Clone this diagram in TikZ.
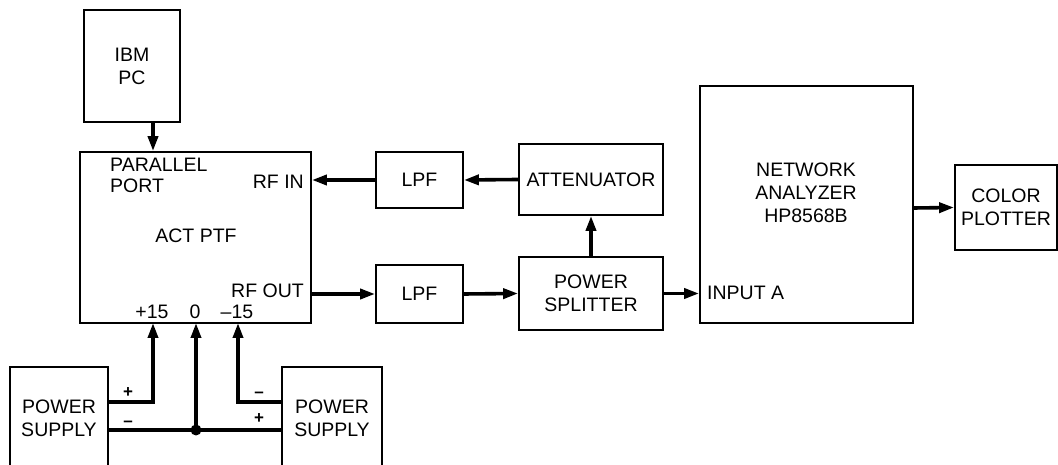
\documentclass[tikz,border=0pt]{standalone}
\usepackage{fontspec}
\setmainfont{Liberation Sans}
\usetikzlibrary{arrows.meta}

\begin{document}
\begin{tikzpicture}[x=1pt,y=1pt,
	block/.style = {draw, line width=1.8pt, inner sep=0pt, align=center,
		font=\fontsize{19.5}{23}\selectfont},
	lbl/.style = {inner sep=0pt, align=left, font=\fontsize{19.5}{21}\selectfont},
	sgn/.style = {inner sep=0pt, font=\bfseries\fontsize{17}{17}\selectfont},
	wire/.style = {line width=3.6pt},
	arr/.style = {wire, -{Triangle[length=15pt,width=10pt]}}]
\useasboundingbox (0,0) rectangle (1058,465);
% blocks
\node[block, minimum width=96, minimum height=112] (ibm) at (132,399) {IBM\\PC};
\node[block, minimum width=231, minimum height=171] (act) at (195.5,227.5) {};
\node[block, minimum width=87, minimum height=56] (lpfa) at (419.5,285) {LPF};
\node[block, minimum width=87, minimum height=58] (lpfb) at (419.5,171) {LPF};
\node[block, minimum width=144, minimum height=71] (att) at (591,285.5) {ATTENUATOR};
\node[block, minimum width=144, minimum height=73] (split) at (591,171.5) {POWER\\SPLITTER};
\node[block, minimum width=213, minimum height=237] (na) at (806.5,260.5) {};
\node[block, minimum width=102, minimum height=85] (plot) at (1006,257.5) {COLOR\\PLOTTER};
\node[block, minimum width=98, minimum height=102] (psa) at (59,47) {POWER\\SUPPLY};
\node[block, minimum width=100, minimum height=102] (psb) at (332,47) {POWER\\SUPPLY};
% texts inside blocks
\node[lbl, anchor=north west] (port) at (110,307) {PARALLEL\\PORT};
\node[lbl, anchor=east] (rfin) at (304,283) {RF IN};
\node[lbl] (acttext) at (196,229) {ACT PTF};
\node[lbl, anchor=east] (rfout) at (304,174) {RF OUT};
\node[lbl] (vp) at (152,153) {+15};
\node[lbl] (vz) at (195,153) {0};
\node[lbl] (vn) at (237,153) {–15};
\node[lbl, align=center, font=\fontsize{19.5}{23}\selectfont] (natext) at (806,272) {NETWORK\\ANALYZER\\HP8568B};
\node[lbl, anchor=west] (inpa) at (707,172) {INPUT A};
% pins and wires
\coordinate (pp) at (153,142);
\coordinate (pz) at (196,142);
\coordinate (pn) at (238,142);
\coordinate (dot) at (196,35);
\draw[arr] (ibm.south -| pp) -- (act.north -| pp);
\draw[arr] (att.west) -- (lpfa.east);
\draw[arr] (lpfa.west) -- (act.east |- lpfa);
\draw[arr] (act.east |- lpfb) -- (lpfb.west);
\draw[arr] (lpfb.east) -- (split.west);
\draw[arr] (split.north) -- (att.south);
\draw[arr] (split.east) -- (na.west |- split);
\draw[arr] (na.east |- 0,257) -- (plot.west);
\draw[arr] (psa.east |- 0,63) -| (pp);
\draw[arr] (psb.west |- 0,63) -| (pn);
\draw[wire] (psa.east |- dot) -- (psb.west |- dot);
\draw[arr] (dot) -- (pz);
\fill (dot) circle (5.5);
% polarity signs
\node[sgn] (pa) at (128,72) {+};
\node[sgn] (ma) at (128,41) {–};
\node[sgn] (mb) at (259,70) {–};
\node[sgn] (pb) at (259,46) {+};
\end{tikzpicture}
\end{document}
